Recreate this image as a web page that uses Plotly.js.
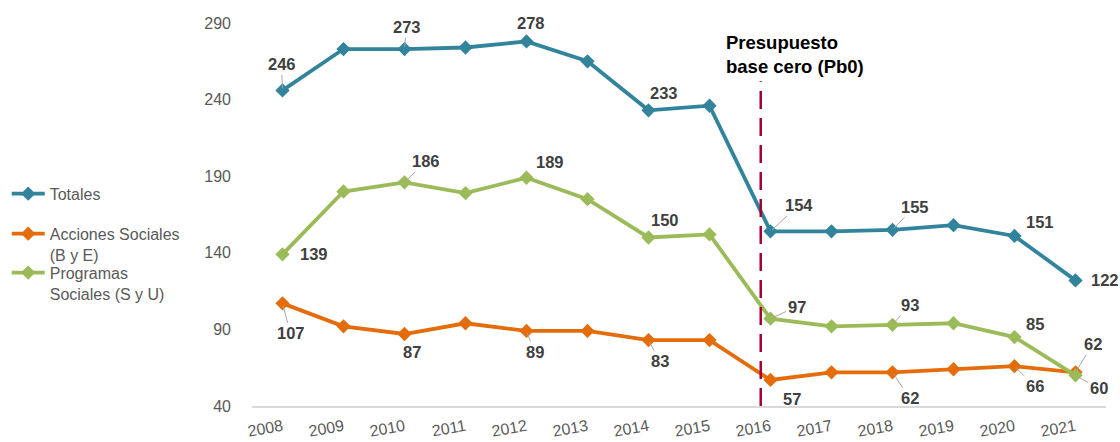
<!DOCTYPE html>
<html>
<head>
<meta charset="utf-8">
<script src="https://cdn.plot.ly/plotly-3.0.1.min.js"></script>
<style>html,body{margin:0;padding:0;background:#fff;}#chart{width:1120px;height:442px;}</style>
</head>
<body>
<div id="chart"></div>
<script>
// ---- data ----
const years = ["2008","2009","2010","2011","2012","2013","2014","2015","2016","2017","2018","2019","2020","2021"];
const totales = [246, 273, 273, 274, 278, 265, 233, 236, 154, 154, 155, 158, 151, 122];
const acciones = [107, 92, 87, 94, 89, 89, 83, 83, 57, 62, 62, 64, 66, 62];
const programas = [139, 180, 186, 179, 189, 175, 150, 152, 97, 92, 93, 94, 85, 60];
const seriesNames = ["Totales", "Acciones Sociales<br>(B y E)", "Programas<br>Sociales (S y U)"];
// indices of points that carry a value label
const totalesLabelIdx = [0, 2, 4, 6, 8, 10, 12, 13];
const accionesLabelIdx = [0, 2, 4, 6, 8, 10, 12, 13];
const programasLabelIdx = [0, 2, 4, 6, 8, 10, 12, 13];
const noteText = "Presupuesto<br>base cero (Pb0)";

// ---- styles ----
const colors = {tot: "#31849B", acc: "#E46C0A", prog: "#9BBB59", pb0: "#A50034"};
const labelFont = {family: "Liberation Sans, Arial, sans-serif", size: 16.5, color: "#404040"};
// label offsets in pixels [dx, dy, leader]
const totOff = [[-1,-26,1],[2,-22,1],[4,-18,0],[15,-17,0],[28,-26,1],[22,-23,1],[25,-14,0],[29,0,0]];
const accOff = [[8,30,1],[7,18,0],[8,21,1],[11,21,1],[21,19,0],[17,26,1],[20,20,1],[17,-28,1]];
const progOff = [[31,0,0],[21,-21,1],[23,-16,0],[16,-17,0],[26,-12,1],[17,-20,1],[20,-13,0],[23,13,1]];

function mkTrace(name, y, color, legendId) {
  return {
    type: "scatter", mode: "lines+markers", x: years, y: y, name: name,
    legend: legendId,
    line: {color: color, width: 3.8},
    marker: {symbol: "diamond", size: 11, color: color},
    cliponaxis: false
  };
}

function mkLabels(y, idx, off) {
  return idx.map((i, k) => {
    const o = off[k];
    const a = {
      xref: "x", yref: "y", x: i, y: y[i], text: "<b>" + y[i] + "</b>",
      font: labelFont
    };
    if (o[2]) {
      Object.assign(a, {showarrow: true, ax: o[0], ay: o[1], arrowhead: 0,
        arrowwidth: 1, arrowcolor: "#A6A6A6", standoff: 2});
    } else {
      Object.assign(a, {showarrow: false, xshift: o[0], yshift: -o[1]});
    }
    return a;
  });
}

const data = [
  mkTrace(seriesNames[0], totales, colors.tot, "legend"),
  mkTrace(seriesNames[1], acciones, colors.acc, "legend2"),
  mkTrace(seriesNames[2], programas, colors.prog, "legend3")
];

const annotations = []
  .concat(mkLabels(totales, totalesLabelIdx, totOff))
  .concat(mkLabels(acciones, accionesLabelIdx, accOff))
  .concat(mkLabels(programas, programasLabelIdx, progOff));

annotations.push({
  xref: "x", yref: "paper", x: 7.84, y: 1.0, xanchor: "left", yanchor: "top",
  xshift: -37, yshift: -7, align: "left", showarrow: false,
  text: "<b>" + noteText + "</b>",
  font: {family: "Liberation Sans, Arial, sans-serif", size: 18.5, color: "#000000"}
});

function mkLegend(y) {
  return {
    xref: "container", yref: "container", x: 0.006, y: y, xanchor: "left", yanchor: "top",
    font: {size: 16, color: "#595959"}, valign: "top", bgcolor: "rgba(0,0,0,0)",
    itemwidth: 33
  };
}

const layout = {
  width: 1120, height: 442,
  margin: {l: 252, r: 14, t: 23, b: 36, autoexpand: false},
  paper_bgcolor: "#ffffff", plot_bgcolor: "#ffffff",
  font: {family: "Liberation Sans, Arial, sans-serif", size: 16, color: "#595959"},
  showlegend: true,
  legend: mkLegend(0.6),
  legend2: mkLegend(0.5095),
  legend3: mkLegend(0.4215),
  xaxis: {
    type: "category", range: [-0.5, 13.5], showgrid: false, zeroline: false,
    showline: true, linecolor: "#D9D9D9", linewidth: 1.5, ticks: "",
    tickangle: -10, tickfont: {size: 16, color: "#595959"}, automargin: false,
    ticklabelstandoff: 4, fixedrange: true
  },
  yaxis: {
    range: [40, 290], tickvals: [40, 90, 140, 190, 240, 290], showgrid: false,
    zeroline: false, showline: false, ticks: "", tickfont: {size: 16, color: "#595959"},
    automargin: false, ticklabelstandoff: 20, fixedrange: true
  },
  shapes: [{
    type: "line", xref: "x", yref: "y", x0: 7.84, x1: 7.84, y0: 40, y1: 252,
    line: {color: colors.pb0, width: 2.5, dash: "18px,9px"}
  }],
  annotations: annotations
};

Plotly.newPlot("chart", data, layout, {displayModeBar: false, staticPlot: true});
</script>
</body>
</html>
